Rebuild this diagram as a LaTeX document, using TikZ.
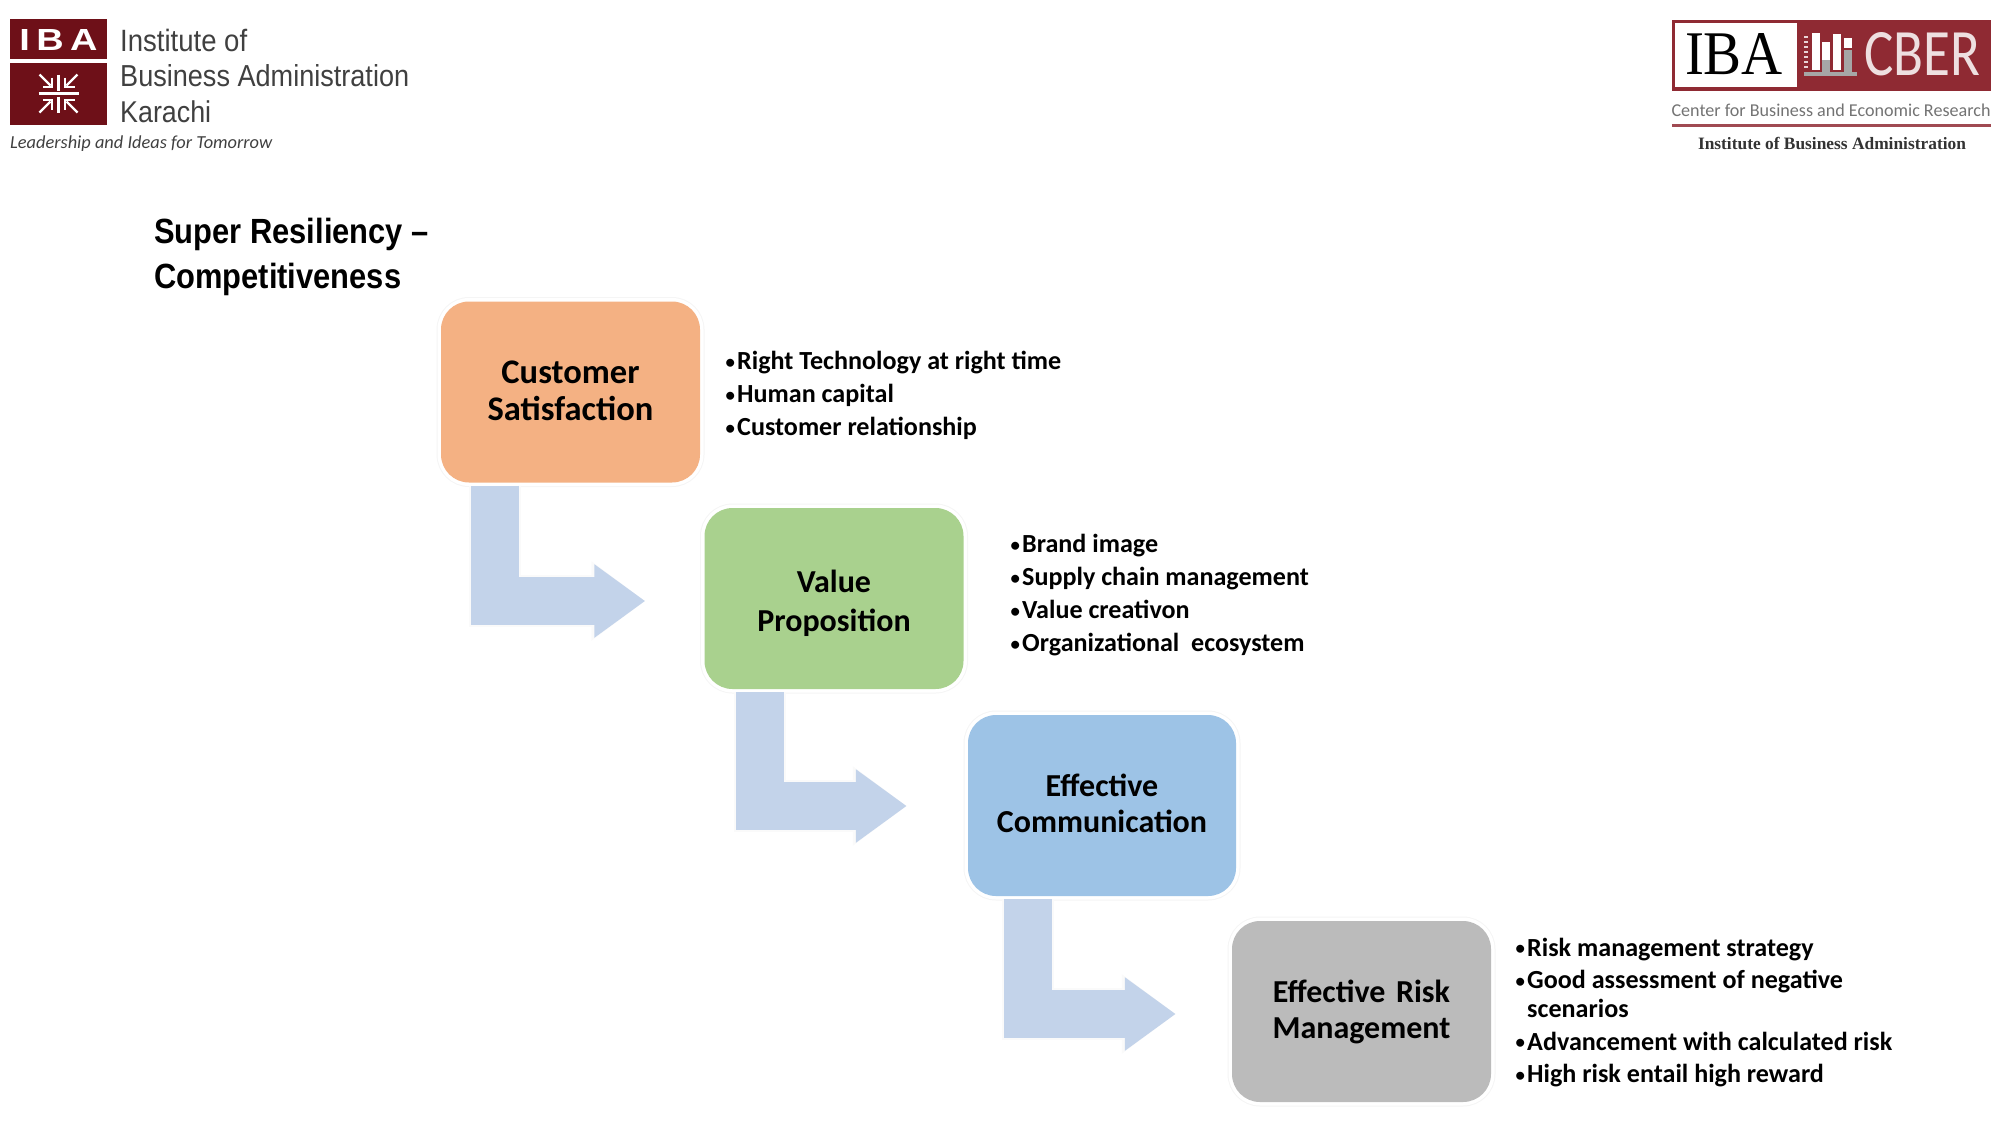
\documentclass[tikz,border=0pt]{standalone}
\usepackage{fontspec}
\setmainfont{Carlito}
\newfontfamily\arialf{Liberation Sans}
\newfontfamily\timesf{Liberation Serif}
\usetikzlibrary{arrows.meta}
\definecolor{ibared}{HTML}{6E1018}
\definecolor{cberred}{HTML}{8F2A33}
\definecolor{cOrange}{HTML}{F4B183}
\definecolor{cGreen}{HTML}{A9D18E}
\definecolor{cBlue}{HTML}{9DC3E6}
\definecolor{cGray}{HTML}{BBBBBB}
\definecolor{cArrow}{HTML}{C3D3EA}
\newcommand{\itemb}{\hbox to 13pt{\hspace{1.5pt}\raisebox{1.5pt}{\scalebox{0.72}{\textbullet}}\hss}}
\newcommand{\narrowt}[1]{\scalebox{0.882}[1]{#1}}
\newcommand{\shifted}[2]{\raisebox{#1}[\height][\depth]{#2}}
\tikzset{
  px/.style={x=1pt,y=-1pt},
  bigbox/.style={rounded corners=28pt,minimum width=259pt,minimum height=181pt,fill=#1,
    text width=240pt,align=center,font=\fontsize{32}{37}\selectfont\bfseries,text=black,
    inner sep=0pt,
    preaction={draw=black!4,line width=9pt},preaction={draw=white,line width=7pt}},
  bentarrow/.style={draw=cArrow,line width=48pt,line join=miter,
    -{Triangle[length=51pt,width=70pt,fill=cArrow]}},
  bentglow/.style={draw=black!2,line width=52pt,line join=miter,
    -{Triangle[length=54pt,width=76pt,fill=black!2]}},
  bulletlist/.style={anchor=north west,align=left,inner sep=0pt,text=black,
    font=\fontsize{26.1}{33}\selectfont\bfseries},
  logotext/.style={anchor=west,inner sep=0pt,text=black!75},
}
\begin{document}
\begin{tikzpicture}[px]
\useasboundingbox (0,0) rectangle (2000,1125);
% left logo
\fill[ibared] (10,19) rectangle (107,59);
\fill[ibared] (10,63) rectangle (107,125);
\node[inner sep=0pt,text=white] (ibaL) at (58.5,39.5) {\resizebox{78pt}{21pt}{\arialf\bfseries I\,B\,A}};
\begin{scope}[shift={(58.5,93.5)},draw=white,line width=2.4pt]
  \draw (-20,0) -- (20,0) (0,-19) -- (0,-3) (0,3) -- (0,19);
  \foreach \sx in {-1,1}{\foreach \sy in {-1,1}{
    \draw (\sx*8,\sy*8) -- (\sx*19,\sy*19);
    \draw[line width=1.8pt] (\sx*6.5,\sy*16) -- (\sx*6.5,\sy*6.5) -- (\sx*16,\sy*6.5);
  }}
\end{scope}
\node[logotext] (l1) at (120,40) {\scalebox{1}[1.12]{\resizebox{127pt}{!}{\fontsize{29}{30}\selectfont\arialf Institute of}}};
\node[logotext] (l2) at (120,76) {\scalebox{1}[1.12]{\resizebox{289pt}{!}{\fontsize{29}{30}\selectfont\arialf Business Administration}}};
\node[logotext] (l3) at (120,112) {\scalebox{1}[1.12]{\resizebox{91pt}{!}{\fontsize{29}{30}\selectfont\arialf Karachi}}};
\node[logotext,text=black!75] (l4) at (10,144) {\resizebox{262pt}{!}{\fontsize{20}{22}\selectfont\itshape Leadership and Ideas for Tomorrow}};
% right logo
\fill[cberred] (1672,20) rectangle (1991,91);
\fill[white] (1675,23) rectangle (1797,87);
\node[inner sep=0pt] (ibaR) at (1734,54) {\resizebox{98pt}{41pt}{\timesf IBA}};
\fill[white] (1812,33) rectangle (1820,70);
\fill[white] (1822,42) rectangle (1830,60);
\fill[white] (1833,34) rectangle (1841,70);
\fill[white] (1844,38) rectangle (1852,48);
\fill[black!35] (1822,60) rectangle (1830,72);
\fill[black!35] (1844,50) rectangle (1852,72);
\fill[black!35] (1804,72) rectangle (1857,76);
\foreach \yy in {36,41,46,51,56,61,66}{\fill[white!80!cberred] (1804,\yy) rectangle (1808,\yy+2);}
\node[inner sep=0pt,text=white!85!cberred] (cber) at (1922,54.5) {\resizebox{116pt}{43pt}{CBER}};
\node[inner sep=0pt,text=black!55] (cen) at (1831,110) {\resizebox{319pt}{!}{\fontsize{20}{22}\selectfont Center for Business and Economic Research}};
\fill[cberred!85] (1672,124) rectangle (1991,127);
\node[inner sep=0pt,text=black!80] (inst) at (1832,143) {\resizebox{268pt}{!}{\fontsize{20}{22}\selectfont\timesf\bfseries Institute of Business Administration}};
% title
\node[anchor=north west,align=left,inner sep=0pt,font=\fontsize{35}{45}\selectfont\arialf\bfseries] (title) at (154,217.5) {\narrowt{Super Resiliency –}\\\narrowt{Competitiveness}};
% boxes
\node[bigbox=cOrange,font=\fontsize{34.5}{37}\selectfont\bfseries] (b1) at (570.5,392) {\shifted{1.3pt}{Customer}\\\shifted{1.3pt}{Satisfaction}};
\node[bigbox=cGreen,font=\fontsize{32}{39.5}\selectfont\bfseries] (b2) at (834,598.5) {\shifted{-5pt}{Value}\\\shifted{-5pt}{Proposition}};
\node[bigbox=cBlue,minimum width=268pt,font=\fontsize{32}{36}\selectfont\bfseries] (b3) at (1102,805.5) {\shifted{2pt}{Effective}\\\shifted{2pt}{Communication}};
\node[bigbox=cGray,font=\fontsize{32}{36}\selectfont\bfseries] (b4) at (1361.5,1011.5) {Effective Risk\\Management};
% arrows
\coordinate (a1s) at ([xshift=-75.5pt,yshift=-3pt]b1.south);
\coordinate (a1e) at ([xshift=-59pt,yshift=-2.5pt]b2.west);
\coordinate (a2s) at ([xshift=-74pt,yshift=-3pt]b2.south);
\coordinate (a2e) at ([xshift=-61pt,yshift=-0.5pt]b3.west);
\coordinate (a3s) at ([xshift=-74pt,yshift=-3pt]b3.south);
\coordinate (a3e) at ([xshift=-56pt,yshift=-2.5pt]b4.west);
\foreach \s/\e in {a1s/a1e,a2s/a2e,a3s/a3e}{
  \draw[bentglow] (\s) |- (\e);
}
\foreach \s/\e in {a1s/a1e,a2s/a2e,a3s/a3e}{
  \draw[bentarrow] (\s) |- (\e);
}
% lists
\node[bulletlist] (t1) at (724,351) {\itemb Right Technology at right time\\\itemb Human capital\\\itemb Customer relationship};
\node[bulletlist] (t2) at (1009,534) {\itemb Brand image\\\itemb Supply chain management\\\itemb Value creativon\\\itemb Organizational\ \ ecosystem};
\node[bulletlist,font=\fontsize{26.1}{32.6}\selectfont\bfseries] (t3) at (1514,937.5) {\itemb Risk management strategy\\\itemb Good assessment of negative\\[-3.5pt]\hspace*{13pt}scenarios\\\itemb Advancement with calculated risk\\\itemb High risk entail high reward};
\end{tikzpicture}
\end{document}
